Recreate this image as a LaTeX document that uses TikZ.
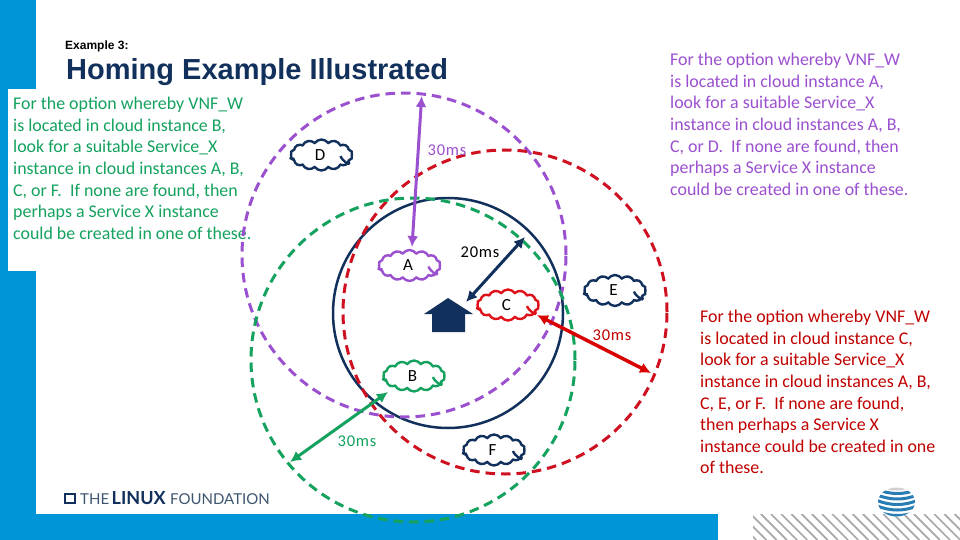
\documentclass[tikz,border=0pt]{standalone}
\usepackage{fontspec}
\setmainfont{Carlito}
\newfontfamily\arialfont{Liberation Sans}
\newfontfamily\logofont{Lato}
\newfontfamily\spacedfont[LetterSpace=5]{Carlito}
\usetikzlibrary{shapes.symbols,arrows.meta}
\definecolor{bandblue}{HTML}{0095D6}
\definecolor{navy}{HTML}{12305C}
\definecolor{vio}{HTML}{9B50CF}
\definecolor{grn}{HTML}{14A25E}
\definecolor{rdash}{HTML}{CE1020}
\definecolor{rcloud}{HTML}{E01018}
\definecolor{rtext}{HTML}{C00000}
\definecolor{htch}{HTML}{A8A8A8}
\definecolor{logolight}{HTML}{3E5570}
\tikzset{
  x=1pt,y=-1pt,
  band/.style={fill=bandblue,draw=none},
  ring/.style={line width=3pt,dash pattern=on 9.5pt off 6pt},
  dist/.style={line width=3pt,{Latex[length=11pt,width=11pt]}-{Latex[length=11pt,width=11pt]}},
  para/.style={anchor=north west,align=left,inner sep=0pt,font=\fontsize{17.9}{21.6}\selectfont},
  msl/.style={inner sep=0pt,font=\fontsize{16.5}{20}\spacedfont},
  logot/.style={anchor=base west,inner sep=0pt},
  cloudbox/.style={shape=cloud,cloud puffs=14,cloud puff arc=110,cloud ignores aspect,
    draw=#1,line width=2.4pt,minimum width=62pt,minimum height=31pt,inner sep=0pt,fill=white,
    font=\fontsize{17}{18}\selectfont},
}
\newcommand{\cloudat}[5]{%
  \node[cloudbox=#4] (#1) at (#2,#3) {#5\hspace*{3pt}};
  \draw[#4,line width=2.4pt] ([shift={(19,1)}]#1.center) .. controls +(1,4) and +(3,7) .. ([shift={(27,6)}]#1.center);
  \draw[#4,line width=2.4pt] ([shift={(-32,3)}]#1.center) -- ([shift={(-27,4)}]#1.center);
}
\begin{document}
\begin{tikzpicture}
\useasboundingbox (0,0) rectangle (960,540);
\fill[white] (0,0) rectangle (960,540);
% frame
\fill[band] (0,0) rectangle (36,540);
\fill[band] (0,514) rectangle (718,540);
\fill[white] (8,89) rectangle (36,271);
% hatch
\begin{scope}
\clip (753,514) rectangle (960,540);
\foreach \h in {0,1,...,26}{
  \draw[htch,line width=1.7pt] ({720+\h*10.2},514) -- ({746+\h*10.2},540);
}
\end{scope}
% globe
\begin{scope}
\clip (896.5,502) ellipse [x radius=18.5pt,y radius=14.5pt];
\fill[white] (870,485) rectangle (920,520);
\foreach \yy in {492,497.5,503,508.5,514}{
  \draw[color={rgb,255:red,40;green,125;blue,180},line width=3pt] (876,{\yy-3}) .. controls (890,{\yy+3}) and (905,{\yy+3}) .. (918,{\yy-3});
}
\fill[gray!35] (896.5,489) ellipse [x radius=9pt,y radius=1.5pt];
\end{scope}
% logo
\node[logot,text=logolight,font=\fontsize{15}{18}\logofont] (lthe) at (80,504) {THE};
\node[logot,text=navy,font=\fontsize{18}{18}\logofont\bfseries] (llinux) at (111.5,504) {LINUX};
\node[logot,text=logolight,font=\fontsize{15}{18}\logofont] (lfound) at (170,504) {FOUNDATION};
\draw[navy,line width=2.5pt] (65,494) rectangle (75,503);
% title
\node[anchor=base west,inner sep=0pt,text=black,font=\fontsize{12}{13}\arialfont\bfseries] (ex) at (65,50) {Example 3:};
\node[anchor=base west,inner sep=0pt,text=navy,font=\fontsize{29}{32}\arialfont\bfseries] (title) at (66,80) {Homing Example Illustrated};
% paragraphs
\node[para,text=grn] (tb) at (13,97) {For the option whereby VNF\_W\\is located in cloud instance B,\\look for a suitable Service\_X\\instance in cloud instances A, B,\\C, or F.\ \ If none are found, then\\perhaps a Service X instance\\could be created in one of these.};
\node[para,text=vio] (ta) at (670,53) {For the option whereby VNF\_W\\is located in cloud instance A,\\look for a suitable Service\_X\\instance in cloud instances A, B,\\C, or D.\ \ If none are found, then\\perhaps a Service X instance\\could be created in one of these.};
\node[para,text=rtext] (tc) at (700,310) {For the option whereby VNF\_W\\is located in cloud instance C,\\look for a suitable Service\_X\\instance in cloud instances A, B,\\C, E, or F.\ \ If none are found,\\then perhaps a Service X\\instance could be created in one\\of these.};
% circles
\draw[navy,line width=2.5pt] (448,313) circle [radius=115pt];
\draw[vio,ring] (404,255) circle [radius=162pt];
\draw[rdash,ring] (505,312) circle [radius=162pt];
\draw[grn,ring] (413,360) circle [radius=162pt];
% house
\fill[navy] (448,298) -- (473,314) -- (465,314) -- (465,332) -- (432,332) -- (432,314) -- (424,314) -- cycle;
\coordinate (house) at (466,302);
% clouds
\cloudat{D}{321.5}{155}{navy}{D}
\cloudat{A}{409.5}{265.5}{vio}{A}
\cloudat{C}{508}{305}{rcloud}{C}
\cloudat{E}{615}{290.5}{navy}{E}
\cloudat{B}{414}{376}{grn}{B}
\cloudat{F}{494}{450}{navy}{F}
% range ends
\coordinate (vt) at (421.7,96);
\coordinate (vb) at (412,247);
\coordinate (nt) at (525,237);
\coordinate (rs) at (537,315);
\coordinate (re) at (651,373);
\coordinate (gs) at (388,392);
\coordinate (ge) at (290,462);
\draw[dist,vio] (vt) -- (vb);
\draw[dist,navy] (nt) -- (house);
\draw[dist,red!85!black,line width=3.5pt] (rs) -- (re);
\draw[dist,grn] (gs) -- (ge);
% labels
\node[msl,text=vio] (l1) at (447,150) {30ms};
\node[msl,text=black] (l2) at (480,252) {20ms};
\node[msl,text=rtext] (l3) at (612,335) {30ms};
\node[msl,text=grn] (l4) at (357,441) {30ms};
\end{tikzpicture}
\end{document}
